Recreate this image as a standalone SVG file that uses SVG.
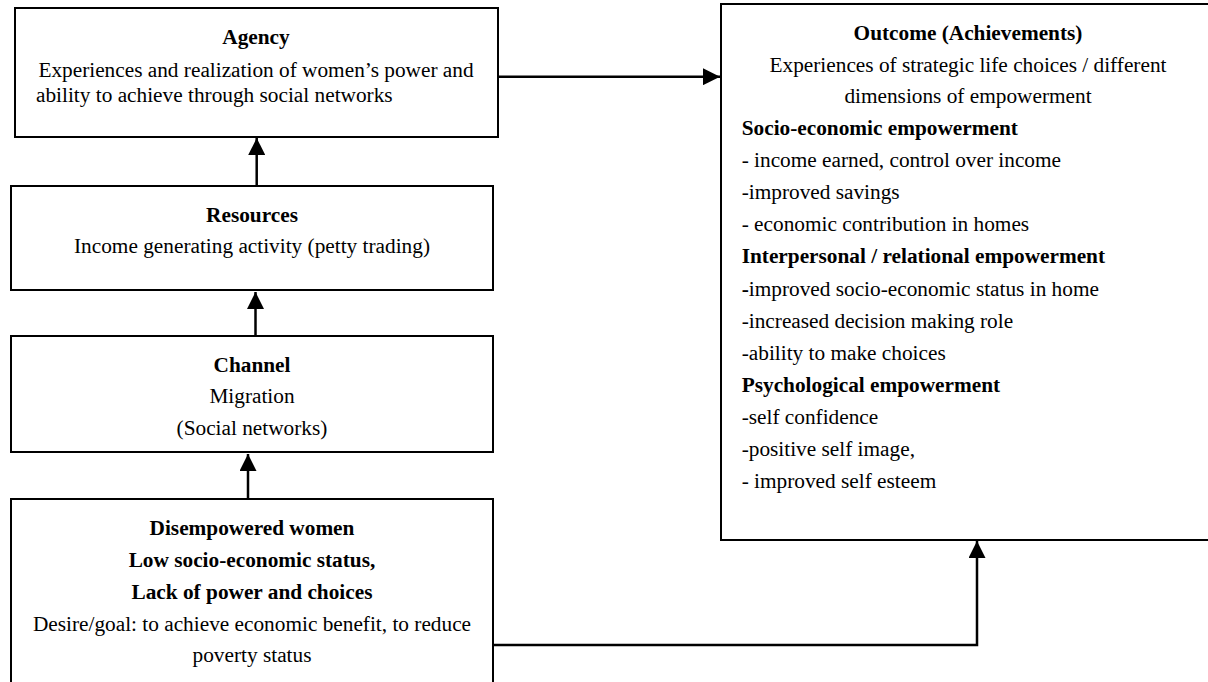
<svg xmlns="http://www.w3.org/2000/svg" width="1208" height="682" viewBox="0 0 1208 682">
<style>
.box{fill:#fff;stroke:#000;stroke-width:2}
text{font-family:"Liberation Serif","Times New Roman",serif;font-size:21.3px;fill:#000}
.c{text-anchor:middle}
.b{font-weight:bold}
.conn{fill:none;stroke:#000;stroke-width:2.5}
</style>
<defs>
<marker id="ah" markerUnits="userSpaceOnUse" markerWidth="17" markerHeight="17" viewBox="0 0 16 16" refX="16" refY="8" orient="auto">
<path d="M0,0 L16,8 L0,16 Z" fill="#000"/>
</marker>
</defs>
<rect width="1208" height="682" fill="#fff"/>
<g id="agency">
<rect class="box" x="15" y="8" width="483" height="129"/>
<text class="c b" x="256" y="44">Agency</text>
<text class="c" x="256" y="77">Experiences and realization of women’s power and</text>
<text x="36" y="101.5">ability to achieve through social networks</text>
</g>
<g id="resources">
<rect class="box" x="11" y="186" width="482" height="104"/>
<text class="c b" x="252" y="222">Resources</text>
<text class="c" x="252" y="253">Income generating activity (petty trading)</text>
</g>
<g id="channel">
<rect class="box" x="11" y="336" width="482" height="116"/>
<text class="c b" x="252" y="372">Channel</text>
<text class="c" x="252" y="403">Migration</text>
<text class="c" x="252" y="435">(Social networks)</text>
</g>
<g id="disempowered">
<rect class="box" x="11" y="499" width="482" height="200"/>
<text class="c b" x="252" y="535">Disempowered women</text>
<text class="c b" x="252" y="567">Low socio-economic status,</text>
<text class="c b" x="252" y="599">Lack of power and choices</text>
<text class="c" x="252" y="631">Desire/goal: to achieve economic benefit, to reduce</text>
<text class="c" x="252" y="662">poverty status</text>
</g>
<g id="outcome">
<rect class="box" x="721" y="4" width="495" height="536"/>
<text class="c b" x="968" y="39.5">Outcome (Achievements)</text>
<text class="c" x="968" y="71.5">Experiences of strategic life choices / different</text>
<text class="c" x="968" y="103">dimensions of empowerment</text>
<text class="b" x="741.7" y="135">Socio-economic empowerment</text>
<text x="741.7" y="167">- income earned, control over income</text>
<text x="741.7" y="199">-improved savings</text>
<text x="741.7" y="231">- economic contribution in homes</text>
<text class="b" x="741.7" y="263">Interpersonal / relational empowerment</text>
<text x="741.7" y="295.5"><tspan class="b">-</tspan>improved socio-economic status in home</text>
<text x="741.7" y="327.5">-increased decision making role</text>
<text x="741.7" y="359.5">-ability to make choices</text>
<text class="b" x="741.7" y="391.5">Psychological empowerment</text>
<text x="741.7" y="423.5">-self confidence</text>
<text x="741.7" y="455.5">-positive self image,</text>
<text x="741.7" y="487.5">- improved self esteem</text>
</g>
<g id="connectors">
<path class="conn" d="M248,499 L248,454" marker-end="url(#ah)"/>
<path class="conn" d="M255.5,336 L255.5,292" marker-end="url(#ah)"/>
<path class="conn" d="M256.7,186 L256.7,138" marker-end="url(#ah)"/>
<path class="conn" d="M499,76.7 L720,76.7" marker-end="url(#ah)"/>
<path class="conn" d="M494,645 L977,645 L977,541" marker-end="url(#ah)"/>
</g>
</svg>
